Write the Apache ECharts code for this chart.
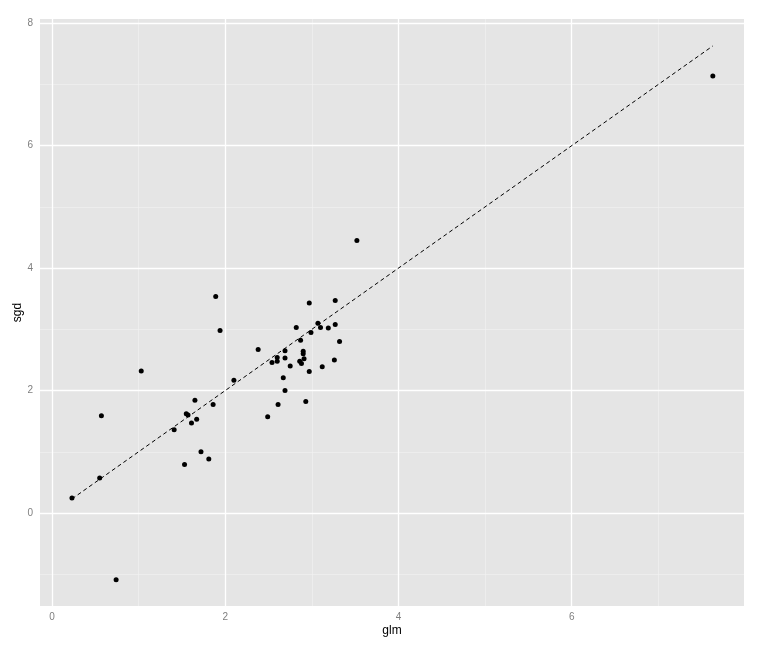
<!DOCTYPE html>
<html>
<head>
<meta charset="utf-8">
<script src="https://cdn.jsdelivr.net/npm/echarts@6/dist/echarts.min.js"></script>
<style>html,body{margin:0;padding:0;background:#fff}#c{width:763px;height:648px}</style>
</head>
<body>
<div id="c"></div>
<script>
var glm = [0.23,0.55,0.57,0.74,1.03,1.41,1.53,1.55,1.57,1.61,1.65,1.67,1.72,1.81,1.86,1.89,1.94,2.10,2.38,2.49,2.54,2.60,2.60,2.61,2.67,2.69,2.69,2.69,2.75,2.82,2.86,2.87,2.88,2.90,2.90,2.91,2.93,2.97,2.97,2.99,3.07,3.10,3.12,3.19,3.26,3.27,3.27,3.32,3.52,7.63];
var sgd = [0.245,0.57,1.59,-1.09,2.32,1.36,0.79,1.62,1.60,1.47,1.84,1.53,1.00,0.88,1.77,3.535,2.98,2.17,2.67,1.57,2.46,2.54,2.48,1.77,2.21,2.65,2.53,2.00,2.40,3.03,2.48,2.82,2.44,2.64,2.60,2.52,1.82,3.43,2.31,2.95,3.10,3.03,2.39,3.02,2.50,3.47,3.08,2.80,4.45,7.14];
var refLine = [[0.23,0.23],[7.63,7.63]];
var xMajor = [0,2,4,6];
var xMinor = [1,3,5,7];
var yMajor = [0,2,4,6,8];
var yMinor = [-1,1,3,5,7];

var pts = glm.map(function(g,i){return [g, sgd[i]];});
var gridLines = [];
xMinor.forEach(function(v){gridLines.push({xAxis:v, lineStyle:{type:'solid', color:'#F2F2F2', width:0.6}});});
yMinor.forEach(function(v){gridLines.push({yAxis:v, lineStyle:{type:'solid', color:'#F2F2F2', width:0.6}});});
xMajor.forEach(function(v){gridLines.push({xAxis:v, lineStyle:{type:'solid', color:'#FFFFFF', width:1.3}});});
yMajor.forEach(function(v){gridLines.push({yAxis:v, lineStyle:{type:'solid', color:'#FFFFFF', width:1.3}});});

var chart = echarts.init(document.getElementById('c'), null, {renderer:'canvas'});
var axisCommon = {
  axisLine:{show:false},
  splitLine:{show:false},
  nameLocation:'middle',
  nameMoveOverlap:false,
  nameTextStyle:{color:'#000', fontSize:12, fontFamily:'Liberation Sans'}
};
chart.setOption({
  animation:false,
  backgroundColor:'#fff',
  grid:{left:40, right:19, top:19, bottom:42, show:true, backgroundColor:'#E5E5E5', borderWidth:0,
        containLabel:false, outerBoundsMode:'none'},
  xAxis:Object.assign({}, axisCommon, {
    type:'value', min:-0.139, max:7.99, name:'glm', nameGap:19,
    axisTick:{show:true, length:4, customValues:xMajor, lineStyle:{color:'#7F7F7F', width:1}},
    axisLabel:{color:'#7F7F7F', fontSize:10, fontFamily:'Liberation Sans', margin:6, customValues:xMajor}
  }),
  yAxis:Object.assign({}, axisCommon, {
    type:'value', min:-1.52, max:8.07, name:'sgd', nameGap:16,
    axisTick:{show:true, length:4, customValues:yMajor, lineStyle:{color:'#7F7F7F', width:1}},
    axisLabel:{color:'#7F7F7F', fontSize:10, fontFamily:'Liberation Sans', margin:7, customValues:yMajor}
  }),
  series:[
    {type:'line', data:[], z:1, silent:true,
     markLine:{silent:true, z:1, symbol:['none','none'], label:{show:false}, animation:false,
               lineStyle:{type:'solid'}, data:gridLines}},
    {type:'line', data:refLine, z:3, symbol:'none', silent:true,
     lineStyle:{color:'#000', width:1, type:[4,3]}},
    {type:'scatter', data:pts, z:4, symbol:'circle', symbolSize:5,
     itemStyle:{color:'#000', opacity:1}}
  ]
});
</script>
</body>
</html>
